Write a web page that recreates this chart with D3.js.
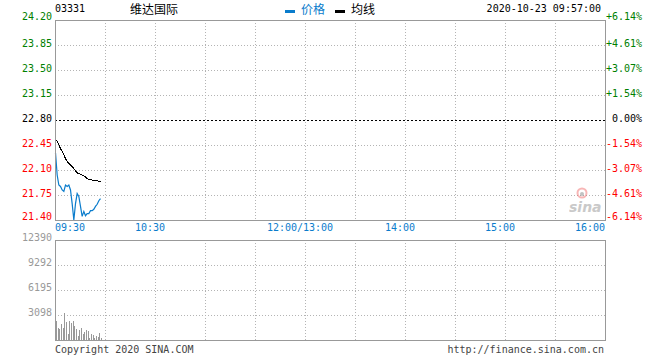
<!DOCTYPE html>
<html>
<head>
<meta charset="utf-8">
<script src="https://cdn.jsdelivr.net/npm/d3@7/dist/d3.min.js"></script>
<style>
  body { margin: 0; background: #fff; }
  svg text { font-family: "DejaVu Sans Mono", "Liberation Mono", monospace; font-size: 10px; }
  svg .cjk { font-family: "Noto Sans CJK SC", sans-serif; font-size: 12px; }
</style>
</head>
<body>
<div id="chart"></div>
<script>
// minute data, 03331 维达国际, 2020-10-23
var times = ["09:30","09:31","09:32","09:33","09:34","09:35","09:36","09:37","09:38","09:39",
             "09:40","09:41","09:42","09:43","09:44","09:45","09:46","09:47","09:48","09:49",
             "09:50","09:51","09:52","09:53","09:54","09:55","09:56","09:57"];
var prices = [22.34, 22.03, 21.89, 21.87, 21.82, 21.80, 21.89, 21.87, 21.89, 21.82,
              21.63, 21.40, 21.63, 21.77, 21.73, 21.59, 21.45, 21.52, 21.46, 21.49,
              21.49, 21.53, 21.53, 21.55, 21.59, 21.62, 21.67, 21.70];
var avgPrices = [22.53, 22.50, 22.45, 22.40, 22.36, 22.31, 22.26, 22.22, 22.19, 22.17,
                 22.15, 22.12, 22.09, 22.06, 22.05, 22.04, 22.03, 22.02, 22.00, 21.98,
                 21.97, 21.97, 21.96, 21.96, 21.95, 21.95, 21.94, 21.94];
var volumes = [2350, 1480, 1360, 1980, 1480, 3340, 2230, 740, 2350, 2100,
               2350, 1730, 1360, 500, 1240, 1480, 740, 990, 1240, 1110,
               250, 740, 620, 250, 500, 370, 870, 250];

var priceTicks = [24.20, 23.85, 23.50, 23.15, 22.80, 22.45, 22.10, 21.75, 21.40];
var pctLabels = ["+6.14%", "+4.61%", "+3.07%", "+1.54%", "0.00%", "-1.54%", "-3.07%", "-4.61%", "-6.14%"];
var prevClose = 22.80;
var volTicks = [12390, 9292, 6195, 3098];
var timeLabels = ["09:30", "10:30", "12:00/13:00", "14:00", "15:00", "16:00"];
var timeLabelMinutes = [0, 60, 150, 210, 270, 330];

var width = 660, height = 360;
var left = 55, right = 605;
var pTop = 20, pBottom = 220, vTop = 240, vBottom = 340;

// minutes of trading since 09:30, lunch break removed
function sessionMinute(t) {
  var hm = t.split(":").map(Number);
  var m = hm[0] * 60 + hm[1] - (9 * 60 + 30);
  if (m > 150) m -= 60;
  return m;
}

var x = d3.scaleLinear().domain([0, 330]).range([left, right]);
var y = d3.scaleLinear().domain([21.40, 24.20]).range([pBottom, pTop]);
var yv = d3.scaleLinear().domain([0, 12390]).range([vBottom, vTop]);

var svg = d3.select("#chart").append("svg")
  .attr("width", width).attr("height", height);

var gridColor = "#b4b4b4", borderColor = "#999";

// vertical grid, every 30 minutes
var gridMinutes = d3.range(30, 330, 30);
[[pTop, pBottom], [vTop, vBottom]].forEach(function (r) {
  svg.append("g").selectAll("line").data(gridMinutes).enter().append("line")
    .attr("x1", d => Math.round(x(d)) + 0.5).attr("x2", d => Math.round(x(d)) + 0.5)
    .attr("y1", r[0]).attr("y2", r[1])
    .attr("stroke", gridColor).attr("stroke-dasharray", "1,2");
});

// horizontal price grid
svg.append("g").selectAll("line").data(priceTicks.slice(1, -1)).enter().append("line")
  .attr("x1", left).attr("x2", right)
  .attr("y1", d => Math.round(y(d)) + 0.5).attr("y2", d => Math.round(y(d)) + 0.5)
  .attr("stroke", d => d === prevClose ? "#000" : gridColor)
  .attr("stroke-dasharray", d => d === prevClose ? "2,2" : "1,2");

// horizontal volume grid
svg.append("g").selectAll("line").data(volTicks.slice(1)).enter().append("line")
  .attr("x1", left).attr("x2", right)
  .attr("y1", d => Math.round(yv(d)) + 0.5).attr("y2", d => Math.round(yv(d)) + 0.5)
  .attr("stroke", gridColor).attr("stroke-dasharray", "1,2");

// sina watermark
var wm = svg.append("g").attr("opacity", 0.45);
wm.append("circle").attr("cx", 582).attr("cy", 193).attr("r", 4.5)
  .attr("fill", "none").attr("stroke", "#f06060").attr("stroke-width", 2);
wm.append("circle").attr("cx", 582).attr("cy", 194).attr("r", 2).attr("fill", "#777");
wm.append("text").attr("x", 569).attr("y", 212)
  .style("font-family", "DejaVu Sans").style("font-size", "14px")
  .style("font-style", "italic").style("font-weight", "bold")
  .attr("fill", "#888").text("sina");

// volume bars
svg.append("g").selectAll("rect").data(volumes).enter().append("rect")
  .attr("x", (d, i) => Math.round(x(sessionMinute(times[i]))) + 1)
  .attr("y", d => Math.round(yv(d)))
  .attr("width", 1)
  .attr("height", d => vBottom - Math.round(yv(d)))
  .attr("fill", "#999");

// price and average lines
var line = d3.line()
  .x((d, i) => x(sessionMinute(times[i])) + 0.5)
  .y(d => y(d));

svg.append("path").datum(avgPrices)
  .attr("fill", "none").attr("stroke", "#000").attr("stroke-width", 1)
  .attr("shape-rendering", "crispEdges").attr("d", line);

svg.append("path").datum(prices)
  .attr("fill", "none").attr("stroke", "#0a7ccc").attr("stroke-width", 1.2)
  .attr("d", line);

// borders
[[pTop, pBottom], [vTop, vBottom]].forEach(function (r) {
  svg.append("rect").attr("x", left + 0.5).attr("y", r[0] + 0.5)
    .attr("width", right - left).attr("height", r[1] - r[0])
    .attr("fill", "none").attr("stroke", borderColor);
});

// price labels
function priceColor(d) {
  return d > prevClose ? "#008000" : (d < prevClose ? "#ff0000" : "#000");
}
function labelY(d, i) {
  if (i === 0 || i === priceTicks.length - 1) return Math.round(y(d));
  return Math.round(y(d)) + 2;
}
svg.append("g").selectAll("text").data(priceTicks).enter().append("text")
  .attr("x", 52).attr("y", labelY)
  .attr("text-anchor", "end").attr("fill", priceColor)
  .text(d => d.toFixed(2));

svg.append("g").selectAll("text").data(priceTicks).enter().append("text")
  .attr("x", 642).attr("y", labelY)
  .attr("text-anchor", "end").attr("fill", priceColor)
  .text((d, i) => pctLabels[i]);

// volume labels
svg.append("g").selectAll("text").data(volTicks).enter().append("text")
  .attr("x", 52).attr("y", d => Math.round(yv(d)) + 1)
  .attr("text-anchor", "end").attr("fill", "#999")
  .text(d => d);

// time labels
svg.append("g").selectAll("text").data(timeLabels).enter().append("text")
  .attr("x", (d, i) => i === 0 ? left : (i === timeLabels.length - 1 ? right : x(timeLabelMinutes[i]) - 5))
  .attr("y", 231)
  .attr("text-anchor", (d, i) => i === 0 ? "start" : (i === timeLabels.length - 1 ? "end" : "middle"))
  .attr("fill", "#0a7ccc")
  .text(d => d);

// header
svg.append("text").attr("x", 55).attr("y", 12).attr("fill", "#000").text("03331");
svg.append("text").attr("class", "cjk").attr("x", 130).attr("y", 14).attr("fill", "#000").text("维达国际");
svg.append("rect").attr("x", 285).attr("y", 10).attr("width", 10).attr("height", 3).attr("fill", "#0a7ccc");
svg.append("text").attr("class", "cjk").attr("x", 301).attr("y", 14).attr("fill", "#0a7ccc").text("价格");
svg.append("rect").attr("x", 335).attr("y", 10).attr("width", 10).attr("height", 3).attr("fill", "#000");
svg.append("text").attr("class", "cjk").attr("x", 351).attr("y", 14).attr("fill", "#000").text("均线");
svg.append("text").attr("x", 601).attr("y", 12).attr("text-anchor", "end").attr("fill", "#000").text("2020-10-23 09:57:00");

// footer
svg.append("text").attr("x", 55).attr("y", 353).attr("fill", "#444").text("Copyright 2020 SINA.COM");
svg.append("text").attr("x", 604).attr("y", 353).attr("text-anchor", "end").attr("fill", "#444").text("http://finance.sina.com.cn");
</script>
</body>
</html>
